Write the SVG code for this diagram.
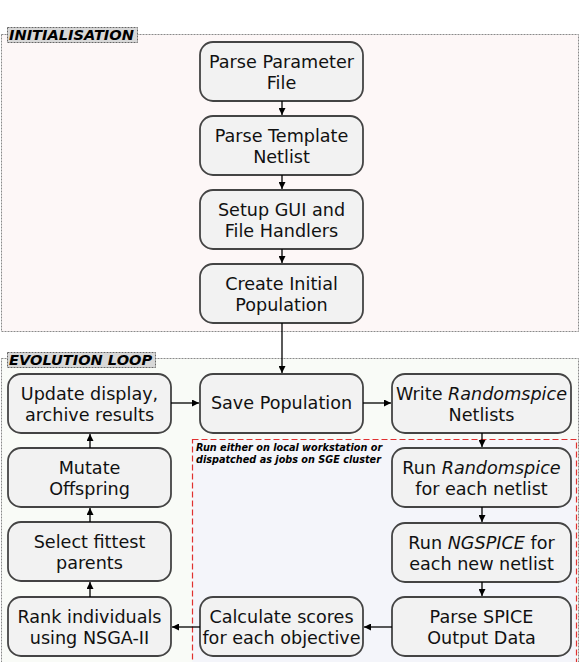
<svg xmlns="http://www.w3.org/2000/svg" width="587" height="662" viewBox="0 0 587 662">
<style>
.node rect{fill:#f2f2f2;stroke:#444;stroke-width:1.8}
.node text{font-family:"DejaVu Sans",sans-serif;font-size:17.6px;fill:#111;text-anchor:middle}
.cont{stroke:#8a8a8a;stroke-width:1;stroke-dasharray:2,1}
.lbl rect{fill:#d8d8d8;stroke:#666;stroke-width:1;stroke-dasharray:2,1}
.lbl text{font-family:"DejaVu Sans",sans-serif;font-size:14.6px;font-weight:bold;font-style:italic;fill:#000}
.conn line{stroke:#000;stroke-width:1.3;marker-end:url(#ah)}
.note{font-family:"DejaVu Sans",sans-serif;font-size:9.7px;font-weight:bold;font-style:italic;fill:#000}
</style>
<defs>
<marker id="ah" viewBox="0 0 10 10" refX="10" refY="5" markerWidth="7" markerHeight="7" markerUnits="userSpaceOnUse" orient="auto">
<path d="M0,0 L10,5 L0,10 z" fill="#000"/>
</marker>
</defs>
<rect width="587" height="662" fill="#fff"/>
<g id="init-container">
<rect class="cont" x="1.5" y="34.5" width="577" height="297" fill="#fdf7f7"/>
<g class="lbl"><rect x="7.5" y="27.5" width="130" height="15"/><text x="9" y="40">INITIALISATION</text></g>
</g>
<g id="loop-container">
<rect class="cont" x="1.5" y="358.5" width="577" height="310" fill="#f9fbf7"/>
<g class="lbl"><rect x="7.5" y="352.5" width="148" height="15"/><text x="9" y="365">EVOLUTION LOOP</text></g>
</g>
<g id="cluster-box">
<rect x="192.5" y="439.5" width="384" height="230" fill="#f4f5fa" stroke="#e03030" stroke-width="1.2" stroke-dasharray="6,3"/>
<text class="note" x="196" y="451">Run either on local workstation or</text>
<text class="note" x="196" y="463">dispatched as jobs on SGE cluster</text>
</g>
<g id="n1" class="node"><rect x="200" y="42" width="163" height="59" rx="13"/><text x="281.5" y="68">Parse Parameter</text><text x="281.5" y="89">File</text></g>
<g id="n2" class="node"><rect x="200" y="116" width="163" height="59" rx="13"/><text x="281.5" y="142">Parse Template</text><text x="281.5" y="163">Netlist</text></g>
<g id="n3" class="node"><rect x="200" y="190" width="163" height="59" rx="13"/><text x="281.5" y="216">Setup GUI and</text><text x="281.5" y="237">File Handlers</text></g>
<g id="n4" class="node"><rect x="200" y="264" width="163" height="59" rx="13"/><text x="281.5" y="290">Create Initial</text><text x="281.5" y="311">Population</text></g>
<g id="n5" class="node"><rect x="200" y="374" width="163" height="59" rx="13"/><text x="281.5" y="409">Save Population</text></g>
<g id="n6" class="node"><rect x="392" y="374" width="179" height="59" rx="13"/><text x="481.5" y="400">Write <tspan font-style="italic">Randomspice</tspan></text><text x="481.5" y="421">Netlists</text></g>
<g id="n7" class="node"><rect x="392" y="448" width="179" height="59" rx="13"/><text x="481.5" y="474">Run <tspan font-style="italic">Randomspice</tspan></text><text x="481.5" y="495">for each netlist</text></g>
<g id="n8" class="node"><rect x="392" y="523" width="179" height="59" rx="13"/><text x="481.5" y="549">Run <tspan font-style="italic">NGSPICE</tspan> for</text><text x="481.5" y="570">each new netlist</text></g>
<g id="n9" class="node"><rect x="392" y="597" width="179" height="59" rx="13"/><text x="481.5" y="623">Parse SPICE</text><text x="481.5" y="644">Output Data</text></g>
<g id="n10" class="node"><rect x="200" y="597" width="163" height="59" rx="13"/><text x="281.5" y="623">Calculate scores</text><text x="281.5" y="644">for each objective</text></g>
<g id="n11" class="node"><rect x="8" y="597" width="163" height="59" rx="13"/><text x="89.5" y="623">Rank individuals</text><text x="89.5" y="644">using NSGA-II</text></g>
<g id="n12" class="node"><rect x="8" y="522" width="163" height="59" rx="13"/><text x="89.5" y="548">Select fittest</text><text x="89.5" y="569">parents</text></g>
<g id="n13" class="node"><rect x="8" y="448" width="163" height="59" rx="13"/><text x="89.5" y="474">Mutate</text><text x="89.5" y="495">Offspring</text></g>
<g id="n14" class="node"><rect x="8" y="374" width="163" height="59" rx="13"/><text x="89.5" y="400">Update display,</text><text x="89.5" y="421">archive results</text></g>
<g id="connectors" class="conn">
<line x1="282" y1="101" x2="282" y2="115"/>
<line x1="282" y1="175" x2="282" y2="189"/>
<line x1="282" y1="249" x2="282" y2="263"/>
<line x1="282" y1="323" x2="282" y2="373"/>
<line x1="171" y1="403" x2="199" y2="403"/>
<line x1="363" y1="403" x2="391" y2="403"/>
<line x1="482" y1="433" x2="482" y2="447"/>
<line x1="482" y1="507" x2="482" y2="522"/>
<line x1="482" y1="582" x2="482" y2="596"/>
<line x1="392" y1="627" x2="364" y2="627"/>
<line x1="200" y1="627" x2="172" y2="627"/>
<line x1="90" y1="597" x2="90" y2="582"/>
<line x1="90" y1="522" x2="90" y2="508"/>
<line x1="90" y1="448" x2="90" y2="434"/>
</g>
</svg>
